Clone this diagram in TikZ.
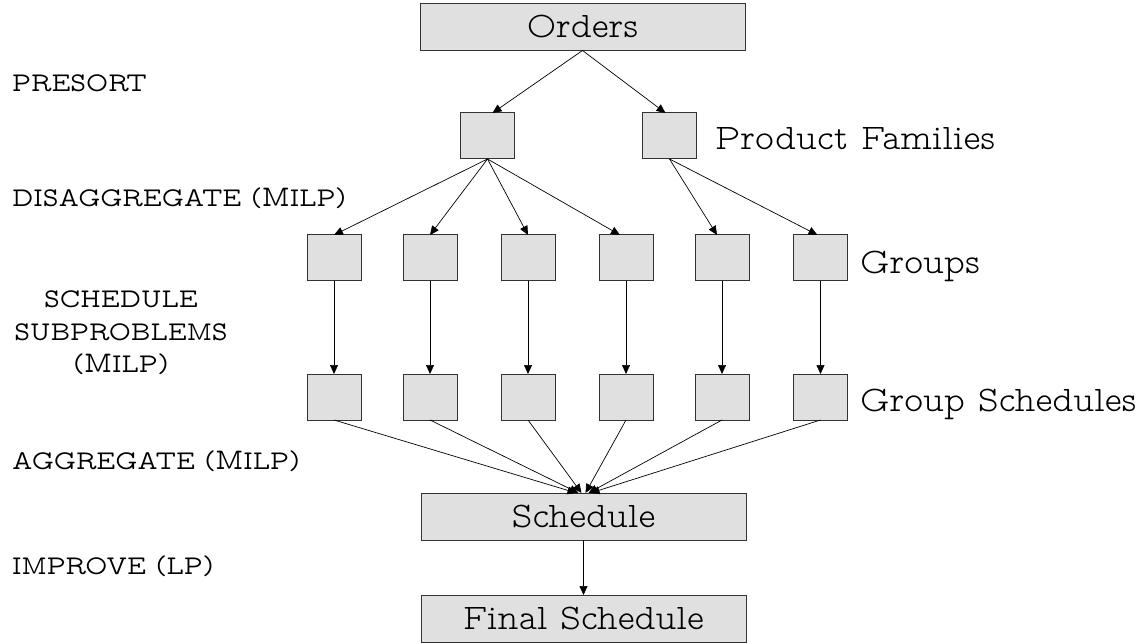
\documentclass[tikz,border=0pt]{standalone}
\usetikzlibrary{arrows.meta,calc}
\definecolor{boxfill}{RGB}{224,224,224}
\definecolor{boxline}{RGB}{50,50,50}
\newcommand\lab{\fontfamily{lmvtt}\fontseries{l}\fontsize{36}{40}\selectfont}
\newcommand\stg{\fontfamily{lmvtt}\fontsize{27}{32}\selectfont}
\newcommand\bigM{{\fontsize{30}{32}\selectfont M}}
\begin{document}
\begin{tikzpicture}[x=1pt,y=-1pt,
  box/.style={draw=boxline, line width=1pt, fill=boxfill, inner sep=0pt, outer sep=0pt},
  smallbox/.style={box, minimum width=54pt, minimum height=46pt},
  widebox/.style={box, minimum width=325pt, minimum height=47pt, font=\lab},
  conn/.style={draw=black, line width=0.7pt, -{Triangle[length=9pt,width=8pt]}},
  sidelab/.style={anchor=base west, inner sep=0pt, font=\lab},
  stagelab/.style={anchor=base west, inner sep=0pt, font=\stg},
  stagemid/.style={anchor=base, inner sep=0pt, font=\stg}]
\useasboundingbox (0,0) rectangle (1148,644);

% main boxes
\node[widebox] (orders) at (582.5,27) {Orders};
\node[widebox] (sched) at (583.5,516.5) {Schedule};
\node[widebox] (final) at (583.5,618.5) {Final Schedule};

% product families
\node[smallbox] (f1) at (487.5,136) {};
\node[smallbox] (f2) at (669.5,136) {};

% groups and group schedules
\foreach \i/\x in {1/334,2/430,3/528,4/626,5/722,6/820.5}{
  \node[smallbox] (g\i) at (\x,258) {};
  \node[smallbox] (s\i) at (\x,397) {};
}

% side labels
\node[sidelab] (lpf) at (715,150) {Product Families};
\node[sidelab] (lgr) at (860,273) {Groups};
\node[sidelab] (lgs) at (860,411) {Group Schedules};

% stage labels
\node[stagelab] (presort) at (12,92) {PRESORT};
\node[stagelab] (disagg) at (12,207) {DISAGGREGATE (\bigM ILP)};
\node[stagemid] (sch1) at (121,307) {SCHEDULE};
\node[stagemid] (sch2) at (121,340) {SUBPROBLEMS};
\node[stagemid] (sch3) at (121,372) {(\bigM ILP)};
\node[stagelab] (aggr) at (12,469) {AGGREGATE (\bigM ILP)};
\node[stagelab] (impr) at (12,574) {IMPROVE (LP)};

% connectors
\draw[conn] (orders.south) -- ($(f1.north)+(5,0)$);
\draw[conn] (orders.south) -- ($(f2.north)+(-4,0)$);
\draw[conn] (f1.south) -- (g1.north);
\draw[conn] (f1.south) -- (g2.north);
\draw[conn] (f1.south) -- (g3.north);
\draw[conn] (f1.south) -- ($(g4.north)+(-6,0)$);
\draw[conn] (f2.south) -- ($(g5.north)+(-5,0)$);
\draw[conn] (f2.south) -- ($(g6.north)+(-3,0)$);
\foreach \i in {1,...,6}{\draw[conn] (g\i.south) -- (s\i.north);}
\draw[conn] (s1.south) -- ($(sched.north)+(-7,0)$);
\draw[conn] (s2.south) -- ($(sched.north)+(-5,0)$);
\draw[conn] (s3.south) -- ($(sched.north)+(-2,0)$);
\draw[conn] (s4.south) -- ($(sched.north)+(2,0)$);
\draw[conn] (s5.south) -- ($(sched.north)+(5,0)$);
\draw[conn] (s6.south) -- ($(sched.north)+(7,0)$);
\draw[conn] (sched.south) -- (final.north);
\end{tikzpicture}
\end{document}
